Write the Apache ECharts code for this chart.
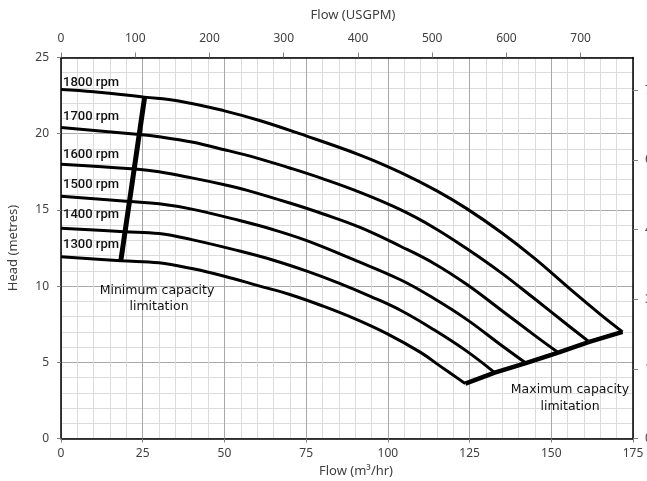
<!DOCTYPE html>
<html>
<head>
<meta charset="utf-8">
<script src="https://cdn.jsdelivr.net/npm/echarts@6/dist/echarts.min.js"></script>
<style>html,body{margin:0;padding:0;background:#fff;overflow:hidden;width:647px;height:481px;}#c{width:647px;height:481px;}</style>
</head>
<body>
<div id="c"></div>
<script>
// Flow (m3/hr), Head (m)
const rpm1800 = [[0,22.9],[10,22.75],[25.5,22.4],[36,22.15],[50,21.5],[61,20.85],[73,20.0],[91.5,18.6],[104,17.45],[115,16.25],[124,15.1],[134.5,13.55],[144.7,11.85],[155,9.95],[165,8.15],[171.8,7.0]];
const rpm1700 = [[0,20.4],[24,19.95],[30,19.8],[40,19.45],[50,18.95],[60,18.4],[70,17.75],[80,17.05],[91.5,16.15],[104,15.0],[114,13.85],[124.2,12.45],[134.5,10.9],[144.7,9.2],[155,7.45],[161.6,6.34]];
const rpm1600 = [[0,18.0],[22.7,17.68],[30,17.5],[40,17.1],[50,16.65],[56.7,16.3],[70,15.45],[80,14.75],[91.5,13.85],[104,12.6],[114,11.5],[124.2,10.1],[134.5,8.45],[144.7,6.8],[152.1,5.64]];
const rpm1500 = [[0,15.9],[20.9,15.55],[30,15.4],[40,15.05],[54.65,14.3],[65,13.7],[75,13.0],[89.4,11.75],[104,10.4],[114,9.2],[124.2,7.8],[134.5,6.15],[142.2,4.95]];
const rpm1400 = [[0,13.8],[19.3,13.57],[30,13.45],[40,13.05],[54.65,12.3],[65,11.7],[75,11.0],[85,10.2],[95,9.3],[104,8.4],[114,7.15],[124,5.75],[132.7,4.32]];
const rpm1300 = [[0,11.93],[18.3,11.66],[30,11.53],[40,11.15],[50,10.65],[60,10.05],[70,9.45],[80,8.7],[90,7.85],[100,6.85],[110,5.65],[116,4.75],[123.7,3.6]];
const minCapacity = [[18.3,11.66],[25.6,22.42]];
const maxCapacity = [[123.7,3.6],[132.7,4.32],[142.2,4.95],[152.1,5.64],[161.6,6.34],[171.8,7.0]];
const rpmNames = ['1800 rpm','1700 rpm','1600 rpm','1500 rpm','1400 rpm','1300 rpm'];
const curves = [rpm1800, rpm1700, rpm1600, rpm1500, rpm1400, rpm1300];
const flowM3Max = 175;
const flowGpmMax = 175 * 4.402868;
const headMMax = 25;
const headFtMax = 25 * 3.28084;

const chart = echarts.init(document.getElementById('c'), null, {renderer:'canvas', width:647, height:481});
const tickFont = {color:'#404040', fontSize:12, fontFamily:'Noto Sans'};
const nameFont = {color:'#404040', fontSize:13, fontFamily:'Noto Sans'};

const series = curves.map((d,i)=>({
  type:'line', name:rpmNames[i], data:d, xAxisIndex:0, yAxisIndex:0,
  smooth:0.4, symbol:'none',
  lineStyle:{color:'#000', width:3}, z:3, silent:true
}));
series.push({type:'line', data:minCapacity, symbol:'none', lineStyle:{color:'#000', width:5}, z:4, silent:true});
series.push({type:'line', data:maxCapacity, symbol:'none', lineStyle:{color:'#000', width:4.5}, z:4, silent:true});

const labelY = [83, 116.5, 155, 185, 215, 245];
const graphics = rpmNames.map((t,i)=>({
  type:'text', x:63, y:labelY[i], z:10,
  style:{text:t, font:'500 13px Roboto', fill:'#111', align:'left', verticalAlign:'middle'}
}));
const annFont = '12.5px "DejaVu Sans"';
graphics.push({type:'text', x:157, y:291, z:10, style:{text:'Minimum capacity', font:annFont, fill:'#111', align:'center', verticalAlign:'middle'}});
graphics.push({type:'text', x:159, y:306.5, z:10, style:{text:'limitation', font:annFont, fill:'#111', align:'center', verticalAlign:'middle'}});
graphics.push({type:'text', x:570, y:390, z:10, style:{text:'Maximum capacity', font:annFont, fill:'#111', align:'center', verticalAlign:'middle'}});
graphics.push({type:'text', x:570, y:406.5, z:10, style:{text:'limitation', font:annFont, fill:'#111', align:'center', verticalAlign:'middle'}});

chart.setOption({
  animation:false,
  backgroundColor:'#fff',
  grid:{left:61, right:14, top:57.5, bottom:42.5, containLabel:false, outerBoundsMode:'none'},
  xAxis:[
    {type:'value', position:'bottom', min:0, max:flowM3Max, interval:25,
     name:'Flow (m³/hr)', nameLocation:'middle', nameGap:22, nameTextStyle:Object.assign({padding:[0,0,0,18]}, nameFont),
     axisLine:{show:true, onZero:false, lineStyle:{color:'#000', width:1.5}},
     axisTick:{show:true, length:4, lineStyle:{color:'#808080'}},
     axisLabel:Object.assign({margin:9}, tickFont),
     splitLine:{show:true, lineStyle:{color:'#a8a8a8', width:1}},
     minorTick:{show:false, splitNumber:5},
     minorSplitLine:{show:true, lineStyle:{color:'#dcdcdc', width:1}}},
    {type:'value', position:'top', min:0, max:flowGpmMax, interval:100,
     name:'Flow (USGPM)', nameLocation:'middle', nameGap:36, nameTextStyle:Object.assign({padding:[0,0,0,12]}, nameFont),
     axisLine:{show:true, onZero:false, lineStyle:{color:'#000', width:1.5}},
     axisTick:{show:true, length:5, lineStyle:{color:'#808080'}},
     axisLabel:Object.assign({margin:13, showMaxLabel:false}, tickFont),
     splitLine:{show:false}}
  ],
  yAxis:[
    {type:'value', position:'left', min:0, max:headMMax, interval:5,
     name:'Head (metres)', nameLocation:'middle', nameGap:41, nameTextStyle:nameFont,
     axisLine:{show:true, onZero:false, lineStyle:{color:'#000', width:1.5}},
     axisTick:{show:true, length:4, lineStyle:{color:'#808080'}},
     axisLabel:Object.assign({margin:12}, tickFont),
     splitLine:{show:true, lineStyle:{color:'#a8a8a8', width:1}},
     minorTick:{show:false, splitNumber:5},
     minorSplitLine:{show:true, lineStyle:{color:'#dcdcdc', width:1}}},
    {type:'value', position:'right', min:0, max:headFtMax, interval:15,
     axisLine:{show:true, onZero:false, lineStyle:{color:'#000', width:1.5}},
     axisTick:{show:true, length:5, lineStyle:{color:'#808080'}},
     axisLabel:Object.assign({margin:12, showMaxLabel:false}, tickFont),
     splitLine:{show:false}}
  ],
  graphic:graphics,
  series:series
});
</script>
</body>
</html>
